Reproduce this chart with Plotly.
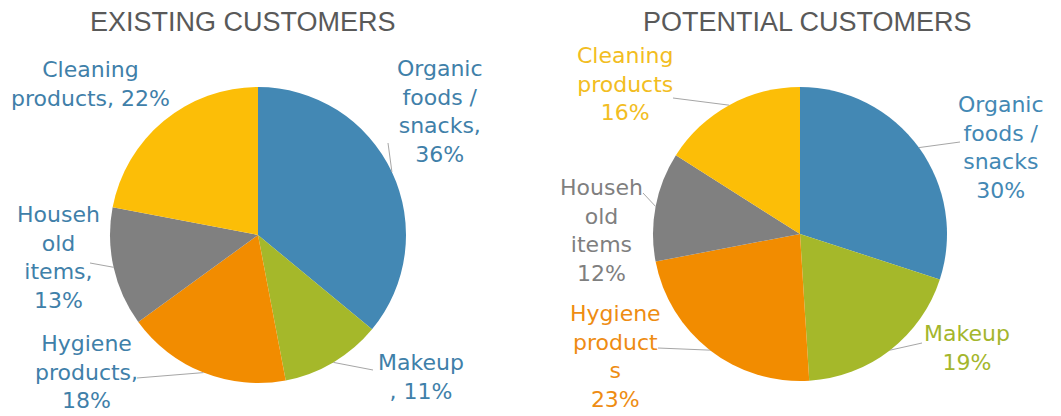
import math
import plotly.graph_objects as go

W, H = 1061, 416

# ---- data ----
categories = ["Organic foods / snacks", "Makeup", "Hygiene products", "Household items", "Cleaning products"]
existing_values = [36, 11, 18, 13, 22]
potential_values = [30, 19, 23, 12, 16]

# label text (category part, with line breaks as in the chart)
existing_label_names = ["Organic<br>foods /<br>snacks,", "Makeup<br>,", "Hygiene<br>products,", "Househ<br>old<br>items,", "Cleaning<br>products,"]
existing_label_seps = ["<br>", " ", "<br>", "<br>", " "]
potential_label_names = ["Organic<br>foods /<br>snacks", "Makeup", "Hygiene<br>product<br>s", "Househ<br>old<br>items", "Cleaning<br>products"]

titles = ["EXISTING CUSTOMERS", "POTENTIAL CUSTOMERS"]

slice_colors = ["#4388B4", "#A5B82A", "#F28C00", "#808080", "#FCBE07"]
existing_text_color = "#3F80A9"
potential_text_colors = ["#4388B4", "#A4B62C", "#EE8C12", "#7F7F7F", "#F2BD22"]

# ---- layout (pixel geometry) ----
pies = [
    dict(cx=258, cy=235, r=148),
    dict(cx=800, cy=234, r=147),
]
title_pos = [(243, 22), (807, 22)]
existing_label_pos = [(440, 111), (421, 377), (86, 372), (58, 257), (90, 84)]
potential_label_pos = [(1001, 147), (967, 348), (615, 356), (601, 230), (625, 84)]
existing_leader_ends = [(388, 143), (373, 370), (137, 378), (90, 263), None]
potential_leader_ends = [(960, 142), (922, 343), (658, 348), (643, 193), (673, 98)]

TITLE_FONT = "Liberation Sans, Arial, sans-serif"
LABEL_FONT = "DejaVu Sans, sans-serif"


def px(x):
    return x / W


def py(y):
    return 1 - y / H


def edge_points(values, geom):
    total = sum(values)
    pts = []
    cum = 0
    for v in values:
        mid = (cum + v / 2) / total * 2 * math.pi
        cum += v
        pts.append((geom["cx"] + geom["r"] * math.sin(mid), geom["cy"] - geom["r"] * math.cos(mid)))
    return pts


fig = go.Figure()
for vals, geom in zip([existing_values, potential_values], pies):
    fig.add_trace(go.Pie(
        labels=categories,
        values=vals,
        sort=False,
        direction="clockwise",
        rotation=0,
        textinfo="none",
        hoverinfo="label+percent",
        marker=dict(colors=slice_colors, line=dict(width=0)),
        domain=dict(
            x=[px(geom["cx"] - geom["r"]), px(geom["cx"] + geom["r"])],
            y=[py(geom["cy"] + geom["r"]), py(geom["cy"] - geom["r"])],
        ),
        showlegend=False,
    ))

annotations = []
shapes = []

for t, (x, y) in zip(titles, title_pos):
    annotations.append(dict(text=t, x=px(x), y=py(y), xref="paper", yref="paper",
                            xanchor="center", yanchor="middle", showarrow=False,
                            font=dict(family=TITLE_FONT, size=27, color="#595959")))

# existing labels
for name, sep, v, (x, y) in zip(existing_label_names, existing_label_seps, existing_values, existing_label_pos):
    annotations.append(dict(text=f"{name}{sep}{v}%", x=px(x), y=py(y), xref="paper", yref="paper",
                            xanchor="center", yanchor="middle", align="center", showarrow=False,
                            font=dict(family=LABEL_FONT, size=22, color=existing_text_color)))
# potential labels
for name, v, col, (x, y) in zip(potential_label_names, potential_values, potential_text_colors, potential_label_pos):
    annotations.append(dict(text=f"{name}<br>{v}%", x=px(x), y=py(y), xref="paper", yref="paper",
                            xanchor="center", yanchor="middle", align="center", showarrow=False,
                            font=dict(family=LABEL_FONT, size=22, color=col)))

# leader lines
for vals, geom, ends in [(existing_values, pies[0], existing_leader_ends),
                         (potential_values, pies[1], potential_leader_ends)]:
    for (ex, ey), end in zip(edge_points(vals, geom), ends):
        if end is None:
            continue
        shapes.append(dict(type="line", xref="paper", yref="paper",
                           x0=px(ex), y0=py(ey), x1=px(end[0]), y1=py(end[1]),
                           line=dict(color="#A6A6A6", width=1)))

fig.update_layout(
    width=W, height=H,
    margin=dict(l=0, r=0, t=0, b=0),
    paper_bgcolor="white",
    plot_bgcolor="white",
    annotations=annotations,
    shapes=shapes,
    showlegend=False,
)

fig.write_html("out.html")
